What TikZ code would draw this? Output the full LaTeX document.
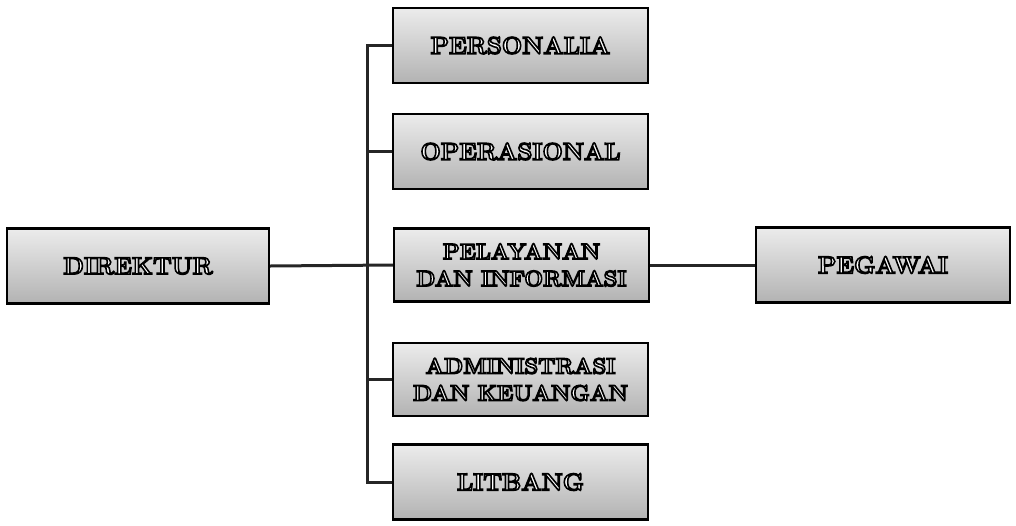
\documentclass[tikz,border=0pt]{standalone}
\usepackage{fontspec}
\tikzset{
  px/.style={x=1pt,y=-1pt},
  unit/.style={draw=black, line width=2.2pt, top color=gray!15, bottom color=gray!60,
    minimum width=255pt, minimum height=75pt, text=white, align=center,
    font=\fontsize{24}{28}\selectfont\bfseries, inner sep=2pt},
  twoline/.style={font=\fontsize{22}{27}\selectfont\bfseries},
  link/.style={line width=3pt, draw=black!85}
}
\newcommand{\ol}[1]{\special{pdf:literal direct 0 G 1.6 w 2 Tr}#1\special{pdf:literal direct 0 Tr}}
\begin{document}
\begin{tikzpicture}[px]
\useasboundingbox (0,0) rectangle (1016,525);
\node[unit, minimum width=262pt] (direktur) at (138,266) {\ol{DIREKTUR}};
\node[unit] (personalia) at (520.5,45.5) {\ol{PERSONALIA}};
\node[unit] (operasional) at (520.5,151.5) {\ol{OPERASIONAL}};
\node[unit, twoline, minimum height=73pt] (pelayanan) at (521.5,265) {\ol{PELAYANAN}\\\ol{DAN INFORMASI}};
\node[unit, twoline, minimum height=73pt] (admin) at (520.5,379.5) {\ol{ADMINISTRASI}\\\ol{DAN KEUANGAN}};
\node[unit] (litbang) at (520.5,482) {\ol{LITBANG}};
\node[unit, minimum width=254pt] (pegawai) at (883,265) {\ol{PEGAWAI}};
\coordinate (spine) at (367,265);
\draw[link] (personalia.west) -- (personalia.west -| spine) -- (litbang.west -| spine) -- (litbang.west);
\draw[link] (operasional.west -| spine) -- (operasional.west);
\draw[link] (admin.west -| spine) -- (admin.west);
\draw[link] (direktur.east) -- (pelayanan.west);
\draw[link] (pelayanan.east) -- (pegawai.west);
\end{tikzpicture}
\end{document}
